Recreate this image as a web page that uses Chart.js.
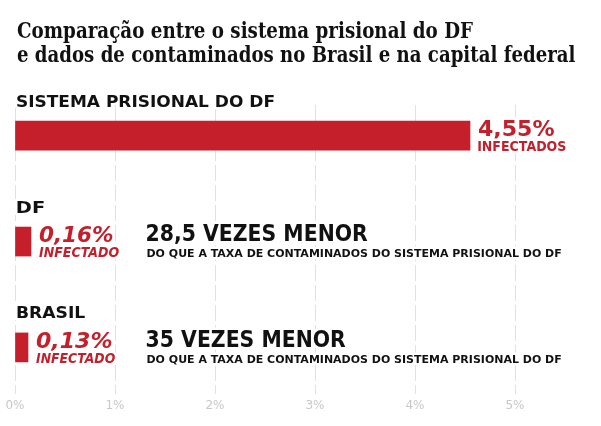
<!DOCTYPE html>
<html><head><meta charset="utf-8">
<script src="https://cdn.jsdelivr.net/npm/chart.js@4.4.1/dist/chart.umd.min.js"></script>
<style>html,body{margin:0;padding:0;background:#fff}#wrap{width:601px;height:426px;position:relative}</style>
</head><body><div id="wrap"><canvas id="c" width="601" height="426"></canvas></div>
<script>
// ---- data ----
const titleLines = ['Comparação entre o sistema prisional do DF', 'e dados de contaminados no Brasil e na capital federal'];
const categories = ['SISTEMA PRISIONAL DO DF', 'DF', 'BRASIL'];
const values = [4.55, 0.16, 0.13];
const valueLabels = ['4,55%', '0,16%', '0,13%'];
const unitLabels = ['INFECTADOS', 'INFECTADO', 'INFECTADO'];
const comparisonLabels = ['', '28,5 VEZES MENOR', '35 VEZES MENOR'];
const comparisonNotes = ['', 'DO QUE A TAXA DE CONTAMINADOS DO SISTEMA PRISIONAL DO DF', 'DO QUE A TAXA DE CONTAMINADOS DO SISTEMA PRISIONAL DO DF'];
const xTickValues = [0, 1, 2, 3, 4, 5];

// ---- styles / layout ----
const RED = '#c41f2a';
const INK = '#111111';
const SANS = '"DejaVu Sans"';
const SERIF = '"DejaVu Serif"';
const catWidths = [257, 27, 68];
const valueWidths = [76, 74, 76];
const unitWidths = [88, 80, 79];
const compWidths = [0, 221, 199];
const noteWidth = 415;

function txt(ctx, s, x, y, size, width, color, o) {
  o = o || {};
  ctx.save();
  ctx.font = (o.italic ? 'italic ' : '') + 'bold ' + size + 'px ' + (o.family || SANS);
  ctx.textAlign = 'left';
  ctx.textBaseline = 'alphabetic';
  const m = ctx.measureText(s);
  const ink = m.actualBoundingBoxRight + m.actualBoundingBoxLeft;
  const k = width ? width / ink : 1;
  ctx.translate(x + m.actualBoundingBoxLeft * k, y);
  ctx.scale(k, 1);
  if (o.halo) {
    ctx.strokeStyle = '#ffffff';
    ctx.lineWidth = 5;
    ctx.lineJoin = 'round';
    ctx.strokeText(s, 0, 0);
  }
  ctx.fillStyle = color;
  ctx.fillText(s, 0, 0);
  ctx.restore();
}

const labelPlugin = {
  id: 'labels',
  afterDraw(chart) {
    const ctx = chart.ctx;
    const xs = chart.scales.x, ys = chart.scales.y;
    txt(ctx, titleLines[0], 17, 37.5, 22.5, 456, INK, {family: SERIF});
    txt(ctx, titleLines[1], 17, 62, 22.5, 558, INK, {family: SERIF});
    categories.forEach((c, i) => {
      const cy = ys.getPixelForValue(i);
      const xe = xs.getPixelForValue(values[i]);
      const it = i > 0;
      txt(ctx, c, 17, cy - 29, 16, catWidths[i], INK, {halo: true});
      txt(ctx, valueLabels[i], xe + 8, cy + 0.5, 20.5, valueWidths[i], RED, {halo: true, italic: it});
      txt(ctx, unitLabels[i], xe + 8, cy + 15.5, 14.5, unitWidths[i], RED, {halo: true, italic: it});
      if (comparisonLabels[i]) {
        txt(ctx, comparisonLabels[i], 146.5, cy - 0.5, 22.5, compWidths[i], INK, {halo: true});
        txt(ctx, comparisonNotes[i], 146.5, cy + 15.5, 10.5, noteWidth, INK, {halo: true});
      }
    });
  }
};

new Chart(document.getElementById('c'), {
  type: 'bar',
  data: {
    datasets: [{
      data: values.map((v, i) => ({x: v, y: i})),
      backgroundColor: RED,
      borderWidth: 0,
      barThickness: 29
    }]
  },
  options: {
    indexAxis: 'y',
    responsive: false,
    devicePixelRatio: 1,
    animation: false,
    layout: {padding: {top: 105, left: 15, right: 86, bottom: 7.6}},
    plugins: {legend: {display: false}, tooltip: {enabled: false}, title: {display: false}},
    scales: {
      x: {
        type: 'linear', min: 0, max: 5, z: 1,
        afterBuildTicks: (s) => { s.ticks = xTickValues.map(v => ({value: v})); },
        ticks: {
          callback: (v) => v + '%',
          color: '#c8c8c8',
          font: {family: 'DejaVu Sans', size: 12},
          padding: 5,
          maxRotation: 0
        },
        grid: {color: 'rgba(200,200,200,0.55)', drawTicks: false, lineWidth: 1},
        border: {display: false, dash: [16, 4]}
      },
      y: {
        type: 'linear', reverse: true, min: -0.29, max: 2.44, display: false,
        offset: false, grid: {offset: false}
      }
    }
  },
  plugins: [labelPlugin]
});
</script>
</body></html>
